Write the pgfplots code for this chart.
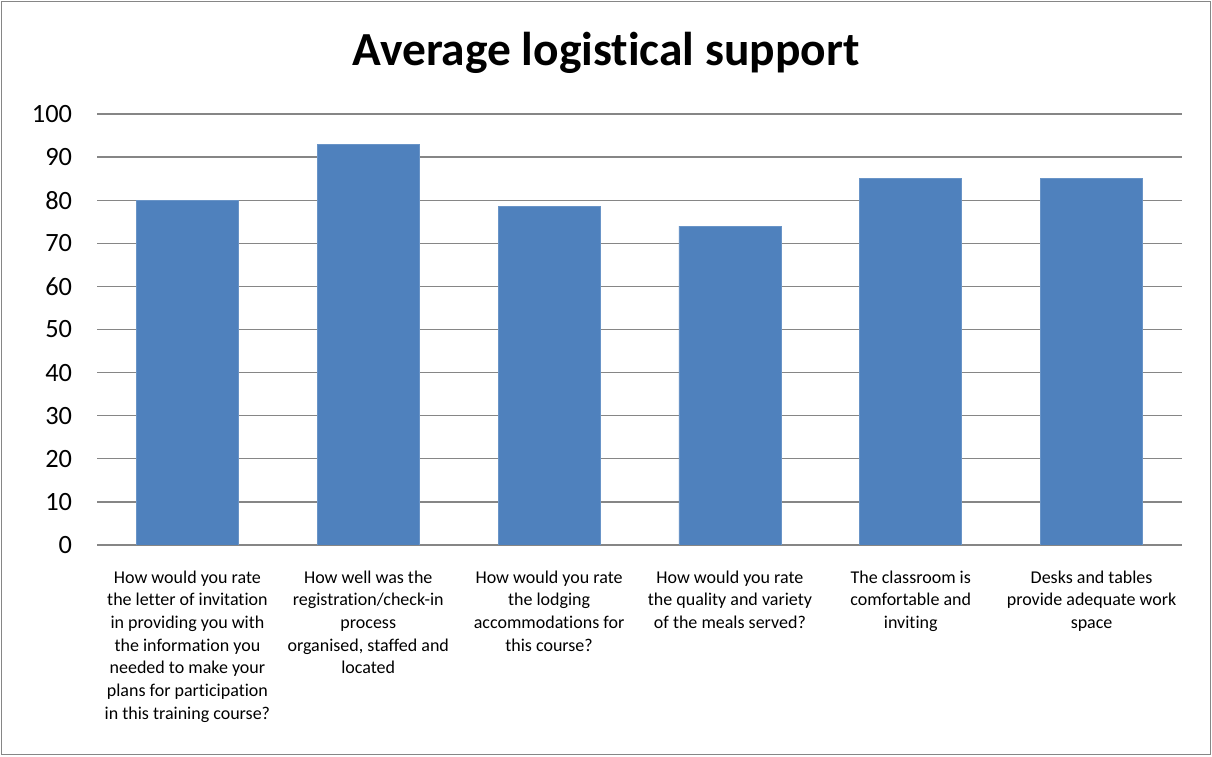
\documentclass[border=0pt]{standalone}
\usepackage{pgfplots}
\pgfplotsset{compat=1.18}
\usepackage{fontspec}
\setmainfont{Carlito}[Ligatures=NoCommon]
\definecolor{barblue}{HTML}{4F81BD}
\definecolor{gridgray}{HTML}{868686}

\begin{document}
\begin{tikzpicture}
% 1 px of the reference = 0.75pt
\useasboundingbox (0,0) rectangle (909pt,567pt);
\draw[gridgray,line width=1.2pt] (1.1pt,1.1pt) rectangle (907.9pt,565.9pt);
\node[font=\fontsize{35.6}{40}\selectfont\bfseries] at (454.5pt,527pt) {Average logistical support};
\begin{axis}[
  at={(72.75pt,158.25pt)}, anchor=south west,
  scale only axis,
  width=813.75pt, height=323.25pt,
  ybar, bar width=76.5pt,
  xmin=-0.5, xmax=5.5,
  ymin=0, ymax=100,
  ytick={0,10,...,100},
  xtick=data,
  xticklabels={
    {How would you rate\\the letter of invitation\\in providing you with\\the information you\\needed to make your\\plans for participation\\in this training course?},
    {How well was the\\registration/check-in\\process\\organised, staffed and\\located},
    {How would you rate\\the lodging\\accommodations for\\this course?},
    {How would you rate\\the quality and variety\\of the meals served?},
    {The classroom is\\comfortable and\\inviting},
    {Desks and tables\\provide adequate work\\space}},
  xticklabel style={font=\fontsize{13.5}{17}\selectfont, align=center, anchor=north, inner sep=0pt, yshift=-19pt},
  yticklabel style={font=\fontsize{19.8}{22}\selectfont, anchor=east, inner sep=0pt, xshift=-18.5pt},
  /pgf/number format/assume math mode=true,
  major tick length=0pt,
  ymajorgrids,
  grid style={gridgray, line width=1pt},
  axis x line*=bottom,
  axis y line*=left,
  x axis line style={gridgray, line width=1pt, -},
  y axis line style={draw=none},
]
\addplot[fill=barblue, draw=barblue!85!white] coordinates {
  (0,80) (1,93) (2,78.6) (3,74) (4,85) (5,85)
};
\end{axis}
\end{tikzpicture}
\end{document}
